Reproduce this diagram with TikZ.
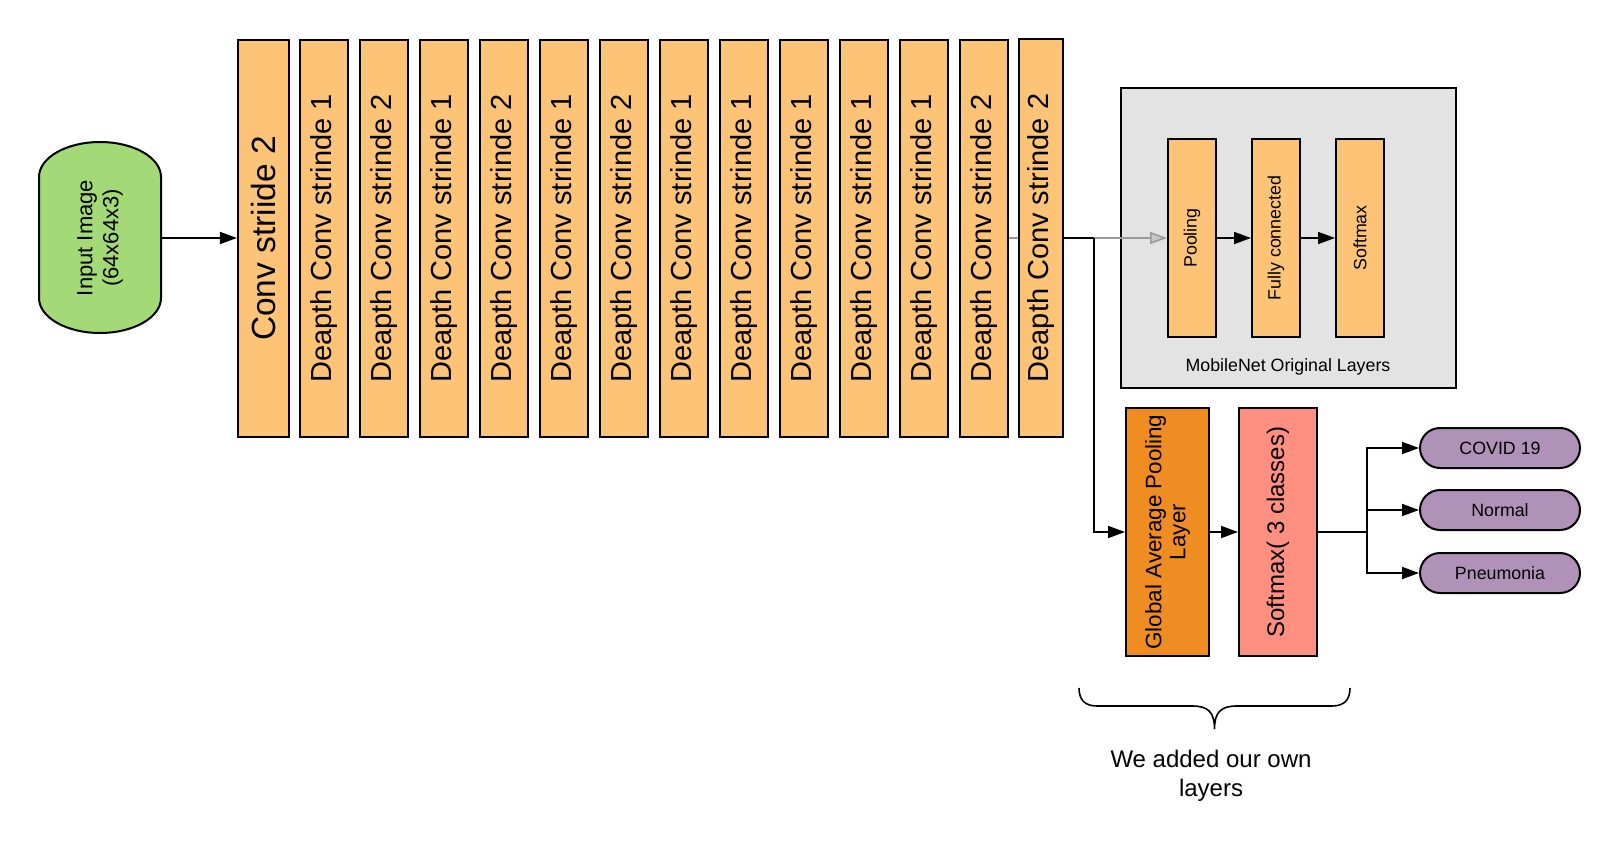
\documentclass[tikz,border=0pt]{standalone}
\usepackage{fontspec}
\setmainfont{Liberation Sans}
\usetikzlibrary{arrows.meta}
\definecolor{layerfill}{HTML}{FDC377}
\definecolor{gapfill}{HTML}{EF8C22}
\definecolor{smfill}{HTML}{FF8F80}
\definecolor{classfill}{HTML}{B092B8}
\definecolor{inputfill}{HTML}{A3D977}
\definecolor{groupfill}{HTML}{E3E3E3}
\definecolor{greyline}{HTML}{9A9A9A}
\begin{document}
\begin{tikzpicture}[x=1pt,y=1pt,
  layerbox/.style={draw=black, line width=2.2pt, fill=layerfill, rotate=90,
    minimum width=397pt, minimum height=48pt, inner sep=0pt, align=center,
    font=\fontsize{29}{34}\selectfont},
  smallbox/.style={draw=black, line width=2pt, fill=layerfill, rotate=90,
    minimum width=198pt, minimum height=48pt, inner sep=0pt, align=center,
    font=\fontsize{17.8}{21}\selectfont},
  ownbox/.style={draw=black, line width=2pt, rotate=90,
    minimum width=248pt, inner sep=0pt, align=center},
  classnode/.style={draw=black, line width=2pt, fill=classfill, rounded corners=20pt,
    minimum width=160pt, minimum height=40pt, inner sep=0pt,
    font=\fontsize{17.8}{21}\selectfont},
  arr/.style={draw=black, line width=1.8pt, -{Triangle[length=17pt,width=12pt]}},
  greyarr/.style={draw=greyline, line width=1.6pt,
    -{Triangle[open, fill=groupfill!60!greyline, length=17pt, width=12pt]}},
  plainline/.style={draw=black, line width=1.8pt}
]
\fill[white] (0,0) rectangle (1620,-853);
\useasboundingbox (0,0) rectangle (1620,-853);

% input image (stadium outline)
\draw[line width=2pt, fill=inputfill] (39,-177) -- (39,-298)
  arc[start angle=180, end angle=360, x radius=61, y radius=35]
  -- (161,-177)
  arc[start angle=0, end angle=180, x radius=61, y radius=35] -- cycle;
\node[rotate=90, minimum width=191pt, minimum height=122pt, inner sep=0pt, align=center,
  font=\fontsize{22}{26}\selectfont] (input) at (100,-238) {Input Image\\(64x64x3)};

% MobileNet original layers group
\node[draw=black, line width=2pt, fill=groupfill, minimum width=335pt, minimum height=300pt,
  inner sep=0pt] (mobile) at (1288.5,-238) {};
\node[font=\fontsize{17.8}{21}\selectfont] (mobiletitle) at (1288,-367) {MobileNet Original Layers};
\node[smallbox] (pool) at (1192,-238) {Pooling};
\node[smallbox] (fc) at (1276,-238) {Fully connected};
\node[smallbox] (osm) at (1360,-238) {Softmax};

% backbone layers
\node[layerbox, minimum height=51pt, font=\fontsize{33.5}{40}\selectfont] (conv) at (263.5,-238.5) {Conv striide 2};
\node[layerbox] (d1) at (324,-238.5) {Deapth Conv strinde 1};
\node[layerbox] (d2) at (384,-238.5) {Deapth Conv strinde 2};
\node[layerbox] (d3) at (444,-238.5) {Deapth Conv strinde 1};
\node[layerbox] (d4) at (504,-238.5) {Deapth Conv strinde 2};
\node[layerbox] (d5) at (564,-238.5) {Deapth Conv strinde 1};
\node[layerbox] (d6) at (624,-238.5) {Deapth Conv strinde 2};
\node[layerbox] (d7) at (684,-238.5) {Deapth Conv strinde 1};
\node[layerbox] (d8) at (744,-238.5) {Deapth Conv strinde 1};
\node[layerbox] (d9) at (804,-238.5) {Deapth Conv strinde 1};
\node[layerbox] (d10) at (864,-238.5) {Deapth Conv strinde 1};
\node[layerbox] (d11) at (924,-238.5) {Deapth Conv strinde 1};
\node[layerbox] (d12) at (984,-238.5) {Deapth Conv strinde 2};

% grey connector into the original layers (passes behind the last layer)
\draw[greyarr] (d12.south |- pool.center) -- (pool.north);
\node[layerbox, minimum height=44pt, minimum width=398pt] (d13) at (1041,-238) {Deapth Conv strinde 2};

% own layers
\node[ownbox, fill=gapfill, minimum height=83pt, font=\fontsize{22.4}{24}\selectfont] (gap) at (1167.5,-532) {Global Average Pooling\\Layer};
\node[ownbox, fill=smfill, minimum height=78pt, font=\fontsize{24}{28}\selectfont] (sm) at (1278,-532) {Softmax( 3 classes)};

\node[classnode] (covid) at (1500,-448) {COVID 19};
\node[classnode] (normal) at (1500,-510) {Normal};
\node[classnode] (pneu) at (1500,-573) {Pneumonia};

% connectors
\draw[arr] (input.south) -- (input.south -| conv.north);
\draw[arr] (pool.south) -- (fc.north);
\draw[arr] (fc.south) -- (osm.north);
\coordinate (bend) at (1094,-238);
\draw[plainline] (d13.south |- bend) -- (bend);
\draw[arr] (bend) |- (gap.north);
\draw[arr] (gap.south) -- (sm.north);
\coordinate (split) at (1367,-532);
\draw[plainline] (sm.south) -- (split);
\draw[arr] (split) |- (covid.west);
\draw[arr] (split) |- (normal.west);
\draw[arr] (split) |- (pneu.west);

% brace
\draw[line width=1.6pt] (1079,-688) .. controls (1079,-700) and (1085,-706) .. (1097,-706)
  -- (1192,-706) .. controls (1208,-706) and (1214.5,-712) .. (1214.5,-729)
  .. controls (1214.5,-712) and (1221,-706) .. (1237,-706)
  -- (1332,-706) .. controls (1344,-706) and (1350,-700) .. (1350,-688);
\node[align=center, font=\fontsize{24}{29}\selectfont] (owntext) at (1211,-776) {We added our own\\layers};
\end{tikzpicture}
\end{document}
